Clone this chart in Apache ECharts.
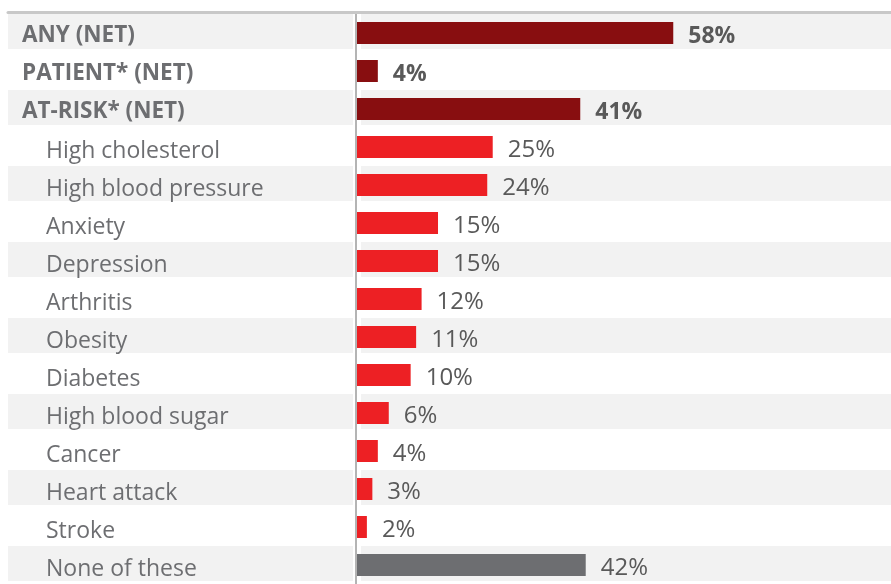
<!DOCTYPE html>
<html>
<head>
<meta charset="utf-8">
<script src="https://cdn.jsdelivr.net/npm/echarts@6/dist/echarts.min.js"></script>
<style>
html,body{margin:0;padding:0;background:#fff;}
#chart{width:891px;height:584px;}
</style>
</head>
<body>
<div id="chart"></div>
<script>
const categories = ['ANY (NET)', 'PATIENT* (NET)', 'AT-RISK* (NET)', 'High cholesterol', 'High blood pressure', 'Anxiety', 'Depression', 'Arthritis', 'Obesity', 'Diabetes', 'High blood sugar', 'Cancer', 'Heart attack', 'Stroke', 'None of these'];
const values = [58, 4, 41, 25, 24, 15, 15, 12, 11, 10, 6, 4, 3, 2, 42];
const groups = ['net', 'net', 'net', 'item', 'item', 'item', 'item', 'item', 'item', 'item', 'item', 'item', 'item', 'item', 'none'];

const groupColor = { net: '#880E10', item: '#ED2024', none: '#6D6E71' };
const FONT = 'Open Sans';

const chart = echarts.init(document.getElementById('chart'), null, { renderer: 'canvas' });

const stripeData = categories.map((c, i) => [0, i]).filter((d, i) => i % 2 === 0);

const barData = values.map((v, i) => ({
  value: v,
  itemStyle: { color: groupColor[groups[i]] },
  label: groups[i] === 'net'
    ? { fontWeight: 'bold', fontSize: 23 }
    : { fontWeight: 'normal', fontSize: 24 }
}));

chart.setOption({
  animation: false,
  backgroundColor: '#ffffff',
  grid: { left: 8, right: 0, top: 14, height: 572, containLabel: false },
  xAxis: {
    type: 'value',
    position: 'top',
    min: -63.6,
    max: 97.8,
    offset: 2,
    axisLine: { show: true, lineStyle: { color: '#c8c8c8', width: 3 } },
    axisTick: { show: false },
    axisLabel: { show: false },
    splitLine: { show: false }
  },
  yAxis: {
    type: 'category',
    inverse: true,
    data: categories,
    axisLine: { show: false, onZero: false },
    axisTick: { show: false },
    splitLine: { show: false },
    axisLabel: {
      inside: true,
      margin: 14,
      fontFamily: FONT,
      fontSize: 23,
      color: '#6d6e71',
      formatter: function (v, i) {
        return groups[i] === 'net' ? '{b|' + v + '}' : '{n|' + v + '}';
      },
      rich: {
        b: { fontFamily: FONT, fontSize: 22.5, fontWeight: 'bold', color: '#6d6e71', padding: [5, 0, 0, 0] },
        n: { fontFamily: FONT, fontSize: 23, color: '#6d6e71', padding: [8, 0, 0, 24] }
      }
    }
  },
  series: [
    {
      type: 'custom',
      silent: true,
      z: 0,
      data: stripeData,
      renderItem: function (params, api) {
        const c = api.coord([0, api.value(1)]);
        const band = api.size([0, 1])[1];
        const cs = params.coordSys;
        const top = c[1] - band / 2;
        const h = band - 3;
        return {
          type: 'group',
          children: [
            { type: 'rect', shape: { x: cs.x, y: top, width: c[0] - 3 - cs.x, height: h }, style: { fill: '#f2f2f2' } },
            { type: 'rect', shape: { x: c[0] + 5, y: top, width: cs.x + cs.width - c[0] - 5, height: h }, style: { fill: '#f2f2f2' } }
          ]
        };
      }
    },
    {
      type: 'bar',
      z: 2,
      barWidth: 22,
      data: barData,
      label: {
        show: true,
        position: 'right',
        distance: 15,
        offset: [0, 3],
        formatter: '{c}%',
        fontFamily: FONT,
        fontSize: 24,
        color: '#595959'
      },
      markLine: {
        silent: true,
        symbol: 'none',
        label: { show: false },
        lineStyle: { color: '#b4b4b4', width: 2, type: 'solid' },
        data: [{ xAxis: 0 }]
      }
    }
  ]
});
</script>
</body>
</html>
